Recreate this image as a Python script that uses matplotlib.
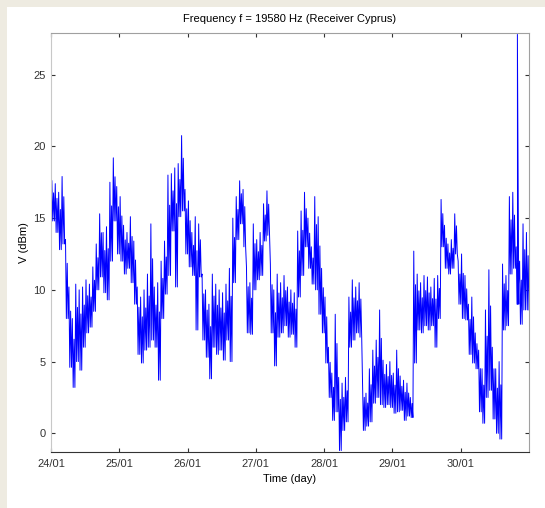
import numpy as np
import matplotlib
matplotlib.use("Agg")
import matplotlib.pyplot as plt
from matplotlib.patches import Rectangle

plt.rcParams['font.family'] = ['Liberation Sans', 'DejaVu Sans']

# upper / lower envelope of the signal, one pair every 0.05 day starting 24/01 00:00
v_hi = [17.6, 17.4, 16.8, 17.9, 13.5, 10.2, 8.0, 10.4, 10.0, 10.2,
        10.7, 10.4, 11.6, 13.2, 15.3, 14.0, 14.4, 17.5, 19.2, 17.2,
        16.5, 14.5, 14.0, 15.1, 13.4, 10.2, 9.5, 10.0, 11.1, 14.6,
        10.2, 10.5, 12.0, 13.4, 18.0, 18.1, 18.5, 18.8, 20.75, 17.0,
        16.2, 14.0, 15.1, 14.6, 11.1, 10.0, 9.0, 11.1, 10.4, 10.0,
        9.8, 10.4, 11.5, 15.0, 16.5, 17.6, 17.0, 11.6, 10.5, 14.6,
        13.5, 14.0, 16.0, 16.9, 11.8, 10.0, 11.1, 10.5, 11.0, 10.2,
        10.0, 9.8, 14.1, 15.5, 16.8, 15.0, 13.0, 16.5, 15.1, 11.5,
        9.5, 6.0, 4.2, 8.3, 3.9, 3.5, 3.9, 9.5, 10.7, 10.2,
        10.5, 3.5, 2.8, 4.5, 5.8, 6.5, 8.6, 5.1, 4.8, 5.0,
        4.2, 5.8, 4.0, 3.7, 3.5, 2.5, 12.7, 11.1, 10.5, 11.0,
        10.9, 10.2, 10.8, 11.0, 16.3, 14.5, 13.2, 13.5, 15.3, 12.0,
        12.5, 11.0, 9.0, 9.5, 7.0, 5.8, 4.5, 8.6, 11.4, 6.0,
        4.5, 5.0, 11.8, 11.0, 16.5, 16.8, 13.0, 12.0, 14.6, 14.0]
v_lo = [14.8, 14.0, 12.8, 13.2, 8.0, 4.6, 3.2, 5.0, 4.4, 6.0,
        7.0, 7.4, 8.5, 10.0, 10.9, 9.8, 9.3, 12.0, 14.8, 12.5,
        12.0, 11.1, 11.5, 10.5, 9.0, 5.5, 4.9, 5.8, 6.0, 6.5,
        6.0, 3.7, 8.0, 9.7, 11.0, 14.1, 10.2, 15.1, 15.5, 12.5,
        11.6, 11.0, 7.2, 10.9, 6.5, 5.3, 3.8, 6.0, 5.5, 5.8,
        5.1, 6.5, 5.0, 10.5, 13.5, 14.6, 13.0, 7.0, 6.9, 10.0,
        10.7, 11.0, 13.4, 13.8, 7.0, 4.7, 6.7, 7.0, 7.5, 6.7,
        6.9, 6.0, 9.5, 11.0, 13.0, 11.5, 10.4, 10.0, 8.3, 7.0,
        4.9, 2.5, 0.9, 1.5, -1.2, 0.2, 0.8, 6.0, 6.5, 7.0,
        6.7, 0.2, 0.5, 0.8, 2.1, 2.5, 2.0, 1.8, 2.0, 1.8,
        1.4, 1.5, 1.6, 0.9, 1.2, 1.1, 4.9, 7.2, 7.0, 7.5,
        7.2, 7.5, 6.0, 8.0, 13.0, 11.5, 11.1, 11.5, 12.5, 9.0,
        8.0, 7.9, 5.5, 4.9, 4.5, 1.5, 0.7, 2.5, 3.0, 1.0,
        0.0, -0.4, 7.2, 7.5, 11.1, 11.5, 9.0, 7.6, 8.6, 8.6]

# isolated spike near the end of 30/01
spike_day = 6.83
spike_val = 27.8

day_labels = ['24/01', '25/01', '26/01', '27/01', '28/01', '29/01', '30/01']
y_ticks = [0, 5, 10, 15, 20, 25]

step = 0.05
t = []
v = []
for i in range(len(v_hi)):
    t0 = i * step
    t += [t0 + 0.0125, t0 + 0.025, t0 + 0.0375, t0 + 0.05]
    v += [v_hi[i], v_lo[i], (v_hi[i] + v_lo[i]) / 2 + (v_hi[i] - v_lo[i]) * 0.2, v_lo[i]]
    if t0 < spike_day <= t0 + step:
        t += [spike_day, spike_day + 0.002]
        v += [spike_val, v_lo[i]]

fig = plt.figure(figsize=(5.45, 5.08), dpi=100)
fig.patch.set_facecolor('white')
fig.patches.append(Rectangle((0, 1 - 7 / 508), 1, 7 / 508, transform=fig.transFigure,
                             facecolor='#eeebe1', edgecolor='none', zorder=0))
fig.patches.append(Rectangle((0, 0), 7 / 545, 1, transform=fig.transFigure,
                             facecolor='#eeebe1', edgecolor='none', zorder=0))

ax = fig.add_axes([51 / 545, 56 / 508, 478 / 545, 419 / 508])
ax.plot(t, v, color='#0000ff', lw=0.7)

ax.set_xlim(0, 7)
ax.set_ylim(-1.3, 27.9)
ax.set_xticks(range(len(day_labels)))
ax.set_xticklabels(day_labels)
ax.set_yticks(y_ticks)
ax.tick_params(direction='in', length=3, labelsize=8, top=True, right=True,
               colors='#333333')
ax.tick_params(axis='x', pad=5)
ax.tick_params(axis='y', pad=4)
ax.spines['left'].set_color('#c8c8c8')
for s in ['top', 'right']:
    ax.spines[s].set_color('#a0a0a0')
ax.spines['bottom'].set_color('#333333')

ax.set_title('Frequency f = 19580 Hz (Receiver Cyprus)', fontsize=8, pad=8)
ax.set_xlabel('Time (day)', fontsize=8, labelpad=4)
ax.set_ylabel('V (dBm)', fontsize=8, labelpad=3)

fig.savefig('out.png', dpi=100)
